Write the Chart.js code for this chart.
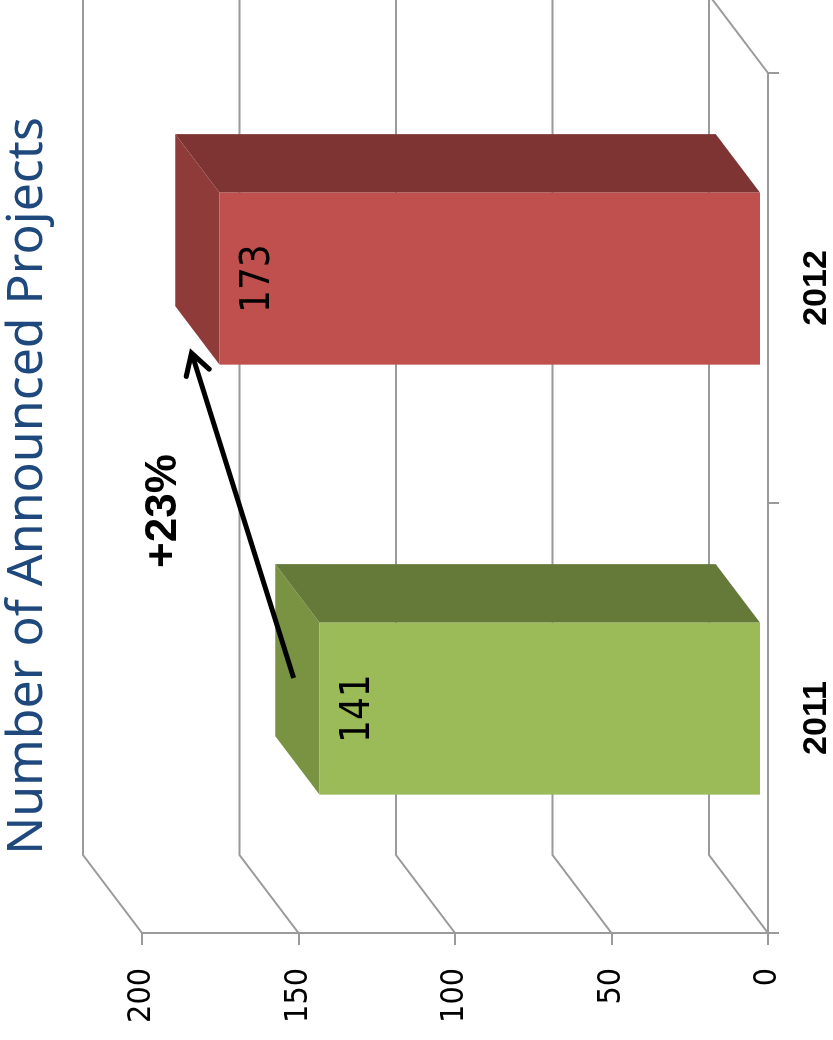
<!DOCTYPE html>
<html>
<head>
<meta charset="utf-8">
<script src="https://cdn.jsdelivr.net/npm/chart.js@4.4.1/dist/chart.umd.min.js"></script>
<style>
  html, body { margin: 0; padding: 0; background: #fff; overflow: hidden; }
  #page { position: absolute; left: 0; top: 0; width: 833px; height: 1040px; overflow: hidden; background: #fff; }
  /* the chart is laid out landscape and turned a quarter turn counter-clockwise */
  #stage { position: absolute; left: 0; top: 0; width: 1040px; height: 833px;
           transform-origin: 0 0; transform: translate(0, 1040px) rotate(-90deg); }
</style>
</head>
<body>
<div id="page"><div id="stage"><canvas id="chart" width="1040" height="833"></canvas></div></div>
<script>
// ---- data ----
const categories = ['2011', '2012'];
const projectCounts = [141, 173];
const valueTicks = [0, 50, 100, 150, 200];
const chartTitle = 'Number of Announced Projects';

// ---- colours ----
const frontColors = ['#9BBB59', '#C0504D'];
const topColors = ['#7A9343', '#8F3B39'];
const sideColors = ['#657A38', '#7D3432'];
const GRID = '#9a9a9a';

// ---- 3-D look ----
const WALL = { dx: 78, dy: -59 };          // full floor depth (offset to back wall)
const BAR_FRONT = 0.12;                     // bar front face, as a share of the depth
const BAR_DEPTH = 0.75;                     // bar depth, as a share of the depth
const fx = WALL.dx * BAR_FRONT, fy = WALL.dy * BAR_FRONT;
const bdx = WALL.dx * BAR_DEPTH, bdy = WALL.dy * BAR_DEPTH;

const TICK_FONT = '"DejaVu Sans Condensed", "Liberation Sans", sans-serif';

function fillPoly(ctx, pts, color) {
  ctx.beginPath();
  ctx.moveTo(pts[0][0], pts[0][1]);
  for (let i = 1; i < pts.length; i++) ctx.lineTo(pts[i][0], pts[i][1]);
  ctx.closePath();
  ctx.fillStyle = color;
  ctx.fill();
}

const depthPlugin = {
  id: 'depth3d',
  beforeDatasetsDraw(chart) {
    const { ctx, chartArea: a, scales: { y } } = chart;
    // side wall and back wall gridlines
    ctx.save();
    ctx.strokeStyle = GRID;
    ctx.lineWidth = 2;
    valueTicks.forEach(v => {
      const py = y.getPixelForValue(v);
      ctx.beginPath();
      ctx.moveTo(a.left, py);
      ctx.lineTo(a.left + WALL.dx, py + WALL.dy);
      ctx.lineTo(a.right + WALL.dx + 200, py + WALL.dy);
      ctx.stroke();
    });
    // right edge of the floor
    const p0 = y.getPixelForValue(0);
    ctx.beginPath();
    ctx.moveTo(a.right, p0);
    ctx.lineTo(a.right + WALL.dx, p0 + WALL.dy);
    ctx.stroke();
    ctx.restore();

    // top and side faces of each bar
    const meta = chart.getDatasetMeta(0);
    ctx.save();
    meta.data.forEach((bar, i) => {
      const p = bar.getProps(['x', 'y', 'base', 'width'], true);
      const l = p.x - p.width / 2 + fx, r = p.x + p.width / 2 + fx;
      const t = p.y + fy, b = p.base + fy;
      fillPoly(ctx, [[l, t], [r, t], [r + bdx, t + bdy], [l + bdx, t + bdy]], topColors[i]);
      fillPoly(ctx, [[r, t], [r, b], [r + bdx, b + bdy], [r + bdx, t + bdy]], sideColors[i]);
    });
    ctx.restore();

    // front faces are drawn by the library, pushed back to the bar's depth
    ctx.save();
    ctx.translate(fx, fy);
  },
  afterDatasetsDraw(chart) {
    const { ctx, chartArea: a, scales: { x, y } } = chart;
    ctx.restore();

    // value labels inside the bars
    const meta = chart.getDatasetMeta(0);
    ctx.save();
    ctx.fillStyle = '#000';
    ctx.font = '40px ' + TICK_FONT;
    ctx.textAlign = 'center';
    ctx.textBaseline = 'middle';
    meta.data.forEach((bar, i) => {
      ctx.fillText(String(projectCounts[i]), bar.x + fx, bar.y + fy + 39);
    });
    ctx.restore();

    // growth arrow between the two years
    const sx = x.getPixelForValue(0) + 40, sy = y.getPixelForValue(projectCounts[0]) - 33;
    const ex = x.getPixelForValue(1) - 65, ey = y.getPixelForValue(projectCounts[1]) - 35;
    const ang = Math.atan2(ey - sy, ex - sx);
    ctx.save();
    ctx.strokeStyle = '#000';
    ctx.lineWidth = 5;
    ctx.lineCap = 'butt';
    ctx.beginPath();
    ctx.moveTo(sx, sy);
    ctx.lineTo(ex, ey);
    ctx.stroke();
    ctx.lineCap = 'round';
    ctx.lineJoin = 'miter';
    const wing = 24, spread = Math.PI / 6;
    ctx.beginPath();
    ctx.moveTo(ex - wing * Math.cos(ang - spread), ey - wing * Math.sin(ang - spread));
    ctx.lineTo(ex, ey);
    ctx.lineTo(ex - wing * Math.cos(ang + spread), ey - wing * Math.sin(ang + spread));
    ctx.stroke();

    // growth label
    const growth = Math.round((projectCounts[1] - projectCounts[0]) / projectCounts[0] * 100);
    ctx.fillStyle = '#000';
    ctx.font = 'bold 44px "Liberation Sans", Arial, sans-serif';
    ctx.textAlign = 'center';
    ctx.textBaseline = 'middle';
    ctx.fillText('+' + growth + '%', (x.getPixelForValue(0) + x.getPixelForValue(1)) / 2 - 8,
                 y.getPixelForValue(projectCounts[1]) - 63);
    ctx.restore();
  },
  afterDraw(chart) {
    const { ctx, chartArea: a } = chart;
    ctx.save();
    ctx.fillStyle = '#1F497D';
    ctx.font = '50px "Noto Sans", "Open Sans", sans-serif';
    ctx.textAlign = 'center';
    ctx.textBaseline = 'middle';
    ctx.fillText(chartTitle, (a.left + a.right) / 2 + 17, 28);
    ctx.restore();
  }
};

new Chart(document.getElementById('chart'), {
  type: 'bar',
  data: {
    labels: categories,
    datasets: [{
      data: projectCounts,
      backgroundColor: frontColors,
      borderWidth: 0,
      barPercentage: 0.4,
      categoryPercentage: 1.0,
      clip: false
    }]
  },
  options: {
    responsive: false,
    animation: false,
    events: [],
    layout: { padding: { top: 142, left: 0, right: 73, bottom: 0 } },
    plugins: {
      legend: { display: false },
      tooltip: { enabled: false },
      title: { display: false }
    },
    scales: {
      x: {
        grid: { display: true, drawOnChartArea: false, drawTicks: true, tickLength: 11,
                offset: true, color: GRID, lineWidth: 2 },
        border: { display: true, color: GRID, width: 2 },
        ticks: { color: '#000', padding: 17,
                 font: { family: '"Liberation Sans", Arial, sans-serif', size: 34, weight: 'bold' } },
        afterFit(scale) { scale.height = 65; }
      },
      y: {
        min: 0, max: 200,
        afterBuildTicks(scale) { scale.ticks = valueTicks.map(v => ({ value: v })); },
        grid: { display: true, drawOnChartArea: false, drawTicks: true, tickLength: 12,
                color: GRID, lineWidth: 2 },
        border: { display: true, color: GRID, width: 2 },
        ticks: { color: '#000', padding: 23, font: { family: TICK_FONT, size: 32 } },
        afterFit(scale) { scale.width = 107; }
      }
    }
  },
  plugins: [depthPlugin]
});
</script>
</body>
</html>
